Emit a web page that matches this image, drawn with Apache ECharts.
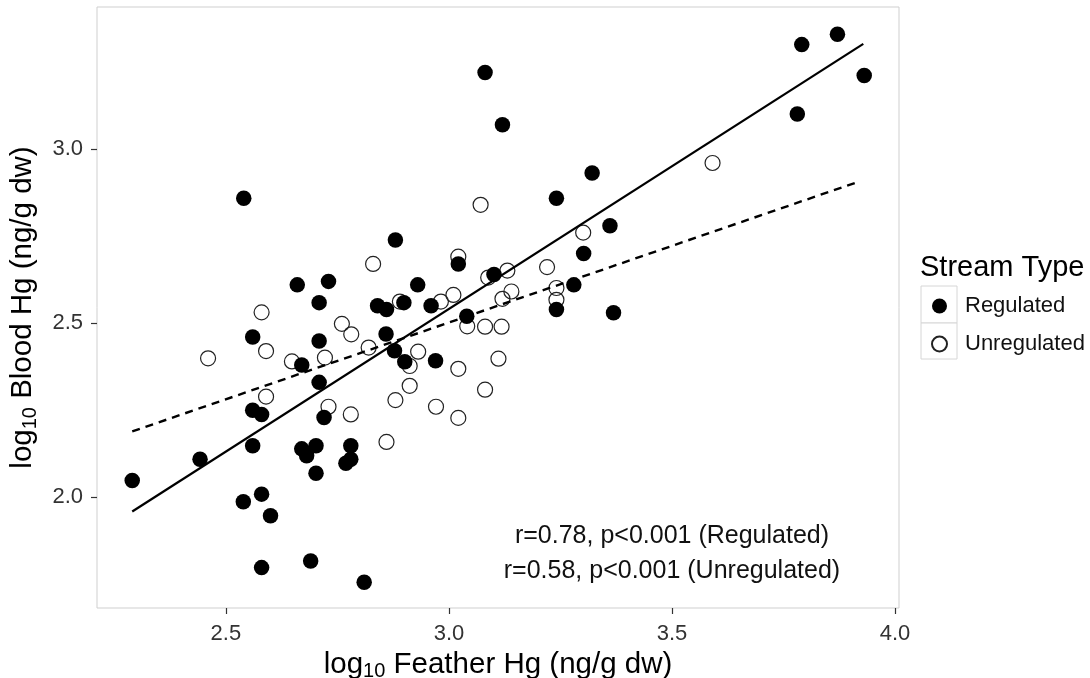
<!DOCTYPE html>
<html>
<head>
<meta charset="utf-8">
<title>Blood vs Feather Hg</title>
<script src="https://cdn.jsdelivr.net/npm/echarts@6/dist/echarts.min.js"></script>
<style>
  html, body { margin: 0; padding: 0; background: #fff; }
  #chart { width: 1090px; height: 678px; }
</style>
</head>
<body>
<div id="chart"></div>
<script>
// log10 feather Hg vs log10 blood Hg, per stream type
const regulatedFeather = [2.290, 2.442, 2.539, 2.580, 2.600, 2.580, 2.690, 2.810, 2.560, 2.670,
  2.681, 2.702, 2.702, 2.780, 2.780, 2.769, 2.560, 2.580, 2.720, 2.709,
  2.670, 2.560, 2.709, 2.859, 2.878, 2.901, 2.970, 3.040, 2.540, 2.660,
  2.730, 2.709, 2.880, 2.930, 2.840, 2.860, 2.899, 2.960, 3.021, 3.101,
  3.081, 3.120, 3.241, 3.321, 3.361, 3.302, 3.280, 3.241, 3.369, 3.781,
  3.791, 3.871, 3.931];
const regulatedBlood = [2.048, 2.109, 1.987, 2.009, 1.947, 1.798, 1.817, 1.756, 2.148, 2.139,
  2.119, 2.148, 2.069, 2.148, 2.109, 2.098, 2.250, 2.238, 2.229, 2.330,
  2.380, 2.460, 2.449, 2.469, 2.421, 2.389, 2.392, 2.520, 2.859, 2.610,
  2.620, 2.559, 2.739, 2.610, 2.550, 2.539, 2.559, 2.550, 2.670, 2.640,
  3.220, 3.070, 2.859, 2.931, 2.780, 2.700, 2.610, 2.539, 2.530, 3.101,
  3.300, 3.330, 3.211];

const unregulatedFeather = [2.460, 2.580, 2.590, 2.590, 2.648, 2.722, 2.730, 2.760, 2.781, 2.780,
  2.820, 2.830, 2.860, 2.880, 2.890, 2.912, 2.912, 2.931, 2.971, 2.982,
  3.010, 3.021, 3.021, 3.021, 3.041, 3.071, 3.081, 3.081, 3.088, 3.111,
  3.118, 3.120, 3.131, 3.140, 3.220, 3.241, 3.241, 3.301, 3.591];
const unregulatedBlood = [2.399, 2.531, 2.420, 2.289, 2.390, 2.401, 2.260, 2.498, 2.468, 2.238,
  2.430, 2.670, 2.159, 2.279, 2.562, 2.320, 2.377, 2.418, 2.260, 2.562,
  2.581, 2.691, 2.369, 2.228, 2.491, 2.840, 2.490, 2.309, 2.631, 2.398,
  2.490, 2.570, 2.651, 2.591, 2.661, 2.601, 2.567, 2.760, 2.960];

// fitted regression lines (end points)
const regulatedFit = [[2.290, 1.959], [3.929, 3.302]];
const unregulatedFit = [[2.290, 2.189], [3.920, 2.907]];

const xTicks = [2.5, 3.0, 3.5, 4.0];
const yTicks = [2.0, 2.5, 3.0];
const seriesNames = ['Regulated', 'Unregulated'];
const statsLines = ['r=0.78, p<0.001 (Regulated)', 'r=0.58, p<0.001 (Unregulated)'];
const statsAnchor = [3.5, 1.838];

const zip = (xs, ys) => xs.map((x, i) => [x, ys[i]]);
const FONT = '"Liberation Sans", Arial, Helvetica, sans-serif';

const chart = echarts.init(document.getElementById('chart'), null, { renderer: 'canvas' });

const titleRich = {
  a: { fontSize: 29.5, fontFamily: FONT, color: '#000', lineHeight: 32, verticalAlign: 'top' },
  s: { fontSize: 20, fontFamily: FONT, color: '#000', lineHeight: 14, verticalAlign: 'bottom' }
};

const legendBoxes = [
  { type: 'rect', shape: { x: 921, y: 286, width: 36, height: 37 }, style: { fill: '#fff', stroke: '#d6d6d6', lineWidth: 1 }, z: 0 },
  { type: 'rect', shape: { x: 921, y: 323, width: 36, height: 36 }, style: { fill: '#fff', stroke: '#d6d6d6', lineWidth: 1 }, z: 0 },
  { type: 'text', x: 920, y: 268, style: { text: 'Stream Type', fontSize: 29, fontFamily: FONT, fill: '#000', verticalAlign: 'middle' } }
];

chart.setOption({
  animation: false,
  backgroundColor: '#fff',
  grid: {
    left: 97, right: 191, top: 7, bottom: 70,
    outerBoundsMode: 'none',
    show: true, borderColor: '#cfcfcf', borderWidth: 1, backgroundColor: '#fff'
  },
  xAxis: {
    type: 'value', min: 2.211, max: 4.009,
    name: '{a|log}{s|10}{a| Feather Hg (ng/g dw)}',
    nameLocation: 'middle', nameGap: 32,
    nameTextStyle: { rich: titleRich },
    axisLine: { show: false },
    splitLine: { show: false },
    axisTick: { show: true, length: 6, lineStyle: { color: '#333', width: 1.2 }, customValues: xTicks },
    axisLabel: {
      customValues: xTicks, margin: 15, fontSize: 22, fontFamily: FONT, color: '#333',
      formatter: v => v.toFixed(1)
    }
  },
  yAxis: {
    type: 'value', min: 1.682, max: 3.408,
    name: '{a|log}{s|10}{a| Blood Hg (ng/g dw)}',
    nameLocation: 'middle', nameGap: 57,
    nameTextStyle: { rich: titleRich },
    axisLine: { show: false },
    splitLine: { show: false },
    axisTick: { show: true, length: 6, lineStyle: { color: '#333', width: 1.2 }, customValues: yTicks },
    axisLabel: {
      customValues: yTicks, margin: 14, fontSize: 22, fontFamily: FONT, color: '#333',
      formatter: v => v.toFixed(1)
    }
  },
  legend: {
    data: seriesNames,
    orient: 'vertical',
    left: 926, top: 290,
    itemWidth: 15, itemHeight: 15, itemGap: 16,
    icon: 'circle',
    selectedMode: false,
    textStyle: { fontSize: 22, fontFamily: FONT, color: '#111', lineHeight: 21, padding: [0, 0, 0, 13] }
  },
  graphic: legendBoxes,
  series: [
    {
      name: 'Unregulated', type: 'scatter', symbol: 'circle', symbolSize: 15,
      data: zip(unregulatedFeather, unregulatedBlood),
      itemStyle: { color: 'rgba(255,255,255,0)', borderColor: '#222', borderWidth: 1.2, opacity: 1 },
      emphasis: { disabled: true }, z: 2
    },
    {
      name: 'Regulated', type: 'scatter', symbol: 'circle', symbolSize: 15.5,
      data: zip(regulatedFeather, regulatedBlood),
      itemStyle: { color: '#000', opacity: 1 },
      emphasis: { disabled: true }, z: 3
    },
    {
      name: 'fit-regulated', type: 'line', data: regulatedFit, showSymbol: false, symbol: 'none',
      lineStyle: { color: '#000', width: 2.2, type: 'solid' }, emphasis: { disabled: true }, z: 4
    },
    {
      name: 'fit-unregulated', type: 'line', data: unregulatedFit, showSymbol: false, symbol: 'none',
      lineStyle: { color: '#000', width: 2.4, type: [8, 6] }, emphasis: { disabled: true }, z: 4
    }
  ]
});

// correlation note, placed at its data coordinate through the grid's scales
const anchorPx = chart.convertToPixel({ gridIndex: 0 }, statsAnchor);
chart.setOption({
  graphic: legendBoxes.concat([{
    type: 'text', x: anchorPx[0], y: anchorPx[1], z: 10,
    style: {
      text: statsLines.join('\n'), fontSize: 25, lineHeight: 35, fontFamily: FONT,
      fill: '#111', align: 'center', verticalAlign: 'middle'
    }
  }])
});
</script>
</body>
</html>
